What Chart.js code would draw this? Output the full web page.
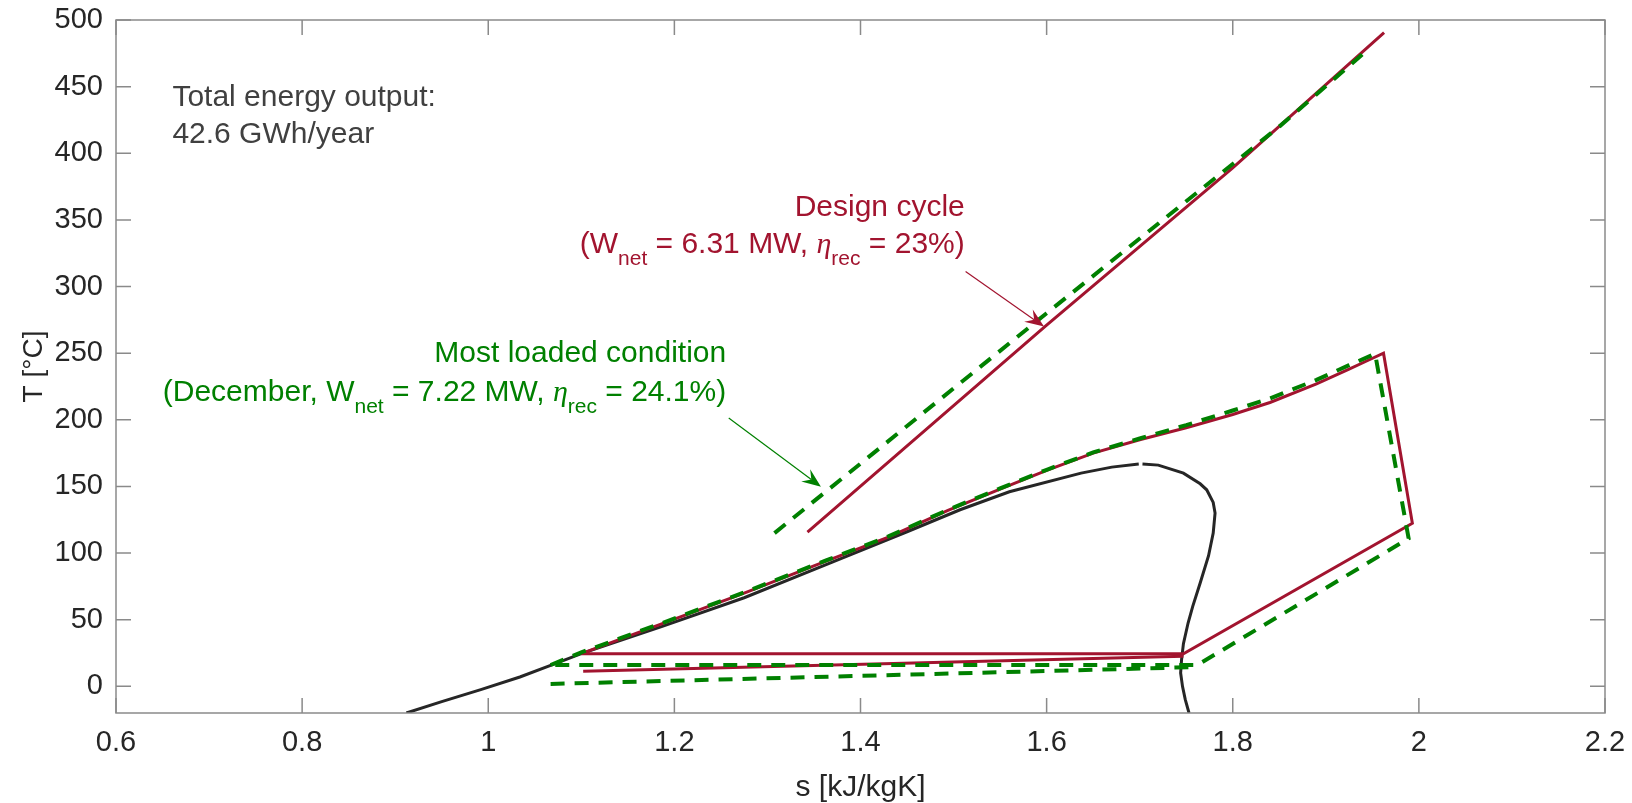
<!DOCTYPE html>
<html lang="en">
<head>
<meta charset="UTF-8" />
<title>T-s diagram</title>
<script src="https://cdn.jsdelivr.net/npm/chart.js"></script>
<style>
  html, body { margin: 0; padding: 0; background: #fff; }
</style>
</head>
<body>
<canvas id="tsChart" width="1632" height="803"></canvas>
<script>
  // axis ticks
  const xTicks = [0.6, 0.8, 1, 1.2, 1.4, 1.6, 1.8, 2, 2.2];
  const yTicks = [0, 50, 100, 150, 200, 250, 300, 350, 400, 450, 500];

  // saturation dome (liquid side, then vapour side)
  const domeLiqS = [0.912, 0.95, 0.992, 1.034, 1.067, 1.10, 1.187, 1.275, 1.369, 1.45, 1.507, 1.56, 1.637, 1.67, 1.699];
  const domeLiqT = [-20, -11.5, -2.5, 7, 15.7, 24.5, 45, 66.5, 93, 116, 132.5, 146, 160, 164.5, 166.8];
  const domeVapS = [1.703, 1.72, 1.747, 1.765, 1.772, 1.779, 1.781, 1.779, 1.774, 1.765, 1.757, 1.752, 1.747, 1.745, 1.744, 1.746, 1.749, 1.753];
  const domeVapT = [166.8, 166, 160, 152, 147.5, 138, 130, 115, 98, 77.5, 60, 47.5, 32, 20, 10, 0, -10, -20];

  // design cycle: heating, expansion, desuperheating, condensation
  const designCycleS = [1.100, 1.187, 1.275, 1.363, 1.43, 1.494, 1.55, 1.60, 1.65, 1.70, 1.75, 1.80, 1.84, 1.89, 1.925, 1.945, 1.962, 1.993, 1.747, 1.100];
  const designCycleT = [24.5, 47, 70, 94, 112, 132, 148, 162, 175, 185, 194, 204, 213, 227, 238, 244.5, 250, 122.4, 24.5, 24.5];
  const designSourceS = [1.343, 1.60, 1.80, 1.9626];
  const designSourceT = [115.7, 271, 389, 490.5];
  const designSinkS = [1.102, 1.747];
  const designSinkT = [11.3, 22.6];

  // most loaded condition (December)
  const decCycleS = [1.067, 1.10, 1.187, 1.275, 1.363, 1.43, 1.494, 1.55, 1.60, 1.65, 1.70, 1.75, 1.80, 1.84, 1.89, 1.925, 1.953, 1.989, 1.762, 1.067];
  const decCycleT = [16, 25.5, 47.5, 70.5, 94.5, 112.5, 132.5, 148.5, 162.5, 175.5, 186, 196, 207, 216, 230, 241, 249.5, 111, 16, 16];
  const decSourceS = [1.3076, 1.60, 1.85, 1.944];
  const decSourceT = [115, 280, 420, 477];
  const decSinkS = [1.067, 1.762];
  const decSinkT = [1.8, 14.5];

  const RED = '#A2142F';
  const GREEN = '#008000';
  const BLACK = '#262626';
  const AXIS = '#8a8a8a';
  const FONT = '"Liberation Sans", Arial, Helvetica, sans-serif';
  const NOTE_SIZE = 30;

  const pts = (s, t) => s.map((v, i) => ({ x: v, y: t[i] }));

  function line(s, t, color, width, dashed, order) {
    return {
      data: pts(s, t),
      showLine: true,
      borderColor: color,
      borderWidth: width,
      borderDash: dashed ? [14, 10] : [],
      pointRadius: 0,
      tension: 0,
      fill: false,
      order: order
    };
  }

  // text blocks and arrows, placed in data units
  const notes = [
    { s: 0.6606, T: 443.4, align: 'left', color: '#404040', parts: [{ t: 'Total energy output:' }] },
    { s: 0.6606, T: 415.7, align: 'left', color: '#404040', parts: [{ t: '42.6 GWh/year' }] },
    { s: 1.512, T: 361.3, align: 'right', color: RED, parts: [{ t: 'Design cycle' }] },
    { s: 1.512, T: 333.2, align: 'right', color: RED, parts: [
      { t: '(W' }, { t: 'net', f: 'sub' }, { t: ' = 6.31 MW, ' }, { t: 'η', f: 'eta' }, { t: 'rec', f: 'sub' }, { t: ' = 23%)' }] },
    { s: 1.2557, T: 251.3, align: 'right', color: GREEN, parts: [{ t: 'Most loaded condition' }] },
    { s: 1.2557, T: 222.5, align: 'right', color: GREEN, parts: [
      { t: '(December, W' }, { t: 'net', f: 'sub' }, { t: ' = 7.22 MW, ' }, { t: 'η', f: 'eta' }, { t: 'rec', f: 'sub' }, { t: ' = 24.1%)' }] }
  ];
  const arrows = [
    { s0: 1.5129, T0: 311.2, s1: 1.5972, T1: 270, color: RED },
    { s0: 1.2584, T0: 201.3, s1: 1.3575, T1: 149.8, color: GREEN }
  ];

  // y is the vertical middle of the capitals
  function drawRich(ctx, parts, x, y, align, color) {
    const fonts = {
      n: NOTE_SIZE + 'px ' + FONT,
      sub: Math.round(NOTE_SIZE * 0.7) + 'px ' + FONT,
      eta: 'italic ' + NOTE_SIZE + 'px "Liberation Serif", serif'
    };
    let w = 0;
    parts.forEach(p => { ctx.font = fonts[p.f || 'n']; p.w = ctx.measureText(p.t).width; w += p.w; });
    let cx = align === 'right' ? x - w : x;
    const base = y + NOTE_SIZE * 0.358;
    ctx.fillStyle = color;
    ctx.textAlign = 'left';
    ctx.textBaseline = 'alphabetic';
    parts.forEach(p => {
      ctx.font = fonts[p.f || 'n'];
      ctx.fillText(p.t, cx, base + (p.f === 'sub' ? 12 : 0));
      cx += p.w;
    });
  }

  function drawArrow(ctx, x0, y0, x1, y1, color) {
    const ang = Math.atan2(y1 - y0, x1 - x0);
    const len = 19, half = 7.5, notch = 12;
    const c = Math.cos(ang), s = Math.sin(ang);
    ctx.strokeStyle = color;
    ctx.fillStyle = color;
    ctx.lineWidth = 1.2;
    ctx.beginPath();
    ctx.moveTo(x0, y0);
    ctx.lineTo(x1 - c * notch, y1 - s * notch);
    ctx.stroke();
    const bx = x1 - c * len, by = y1 - s * len;
    ctx.beginPath();
    ctx.moveTo(x1, y1);
    ctx.lineTo(bx - s * half, by + c * half);
    ctx.lineTo(x1 - c * notch, y1 - s * notch);
    ctx.lineTo(bx + s * half, by - c * half);
    ctx.closePath();
    ctx.fill();
  }

  const frameAndNotes = {
    id: 'frameAndNotes',
    afterDatasetsDraw(chart) {
      const { ctx, chartArea: a, scales: { x, y } } = chart;
      const TICK = 15;
      ctx.save();
      ctx.strokeStyle = AXIS;
      ctx.lineWidth = 1.5;
      ctx.strokeRect(a.left, a.top, a.right - a.left, a.bottom - a.top);
      ctx.beginPath();
      x.ticks.forEach(t => {
        const px = x.getPixelForValue(t.value);
        ctx.moveTo(px, a.bottom); ctx.lineTo(px, a.bottom - TICK);
        ctx.moveTo(px, a.top); ctx.lineTo(px, a.top + TICK);
      });
      y.ticks.forEach(t => {
        const py = y.getPixelForValue(t.value);
        ctx.moveTo(a.left, py); ctx.lineTo(a.left + TICK, py);
        ctx.moveTo(a.right, py); ctx.lineTo(a.right - TICK, py);
      });
      ctx.stroke();

      notes.forEach(n => drawRich(ctx, n.parts, x.getPixelForValue(n.s), y.getPixelForValue(n.T), n.align, n.color));
      arrows.forEach(r => drawArrow(ctx,
        x.getPixelForValue(r.s0), y.getPixelForValue(r.T0),
        x.getPixelForValue(r.s1), y.getPixelForValue(r.T1), r.color));
      ctx.restore();
    }
  };

  // fixed axis boxes, no label overflow padding
  function fixBox(sc, size) {
    if (sc.isHorizontal()) sc.height = size; else sc.width = size;
    sc.paddingTop = sc.paddingBottom = sc.paddingLeft = sc.paddingRight = 0;
  }

  new Chart(document.getElementById('tsChart'), {
    type: 'scatter',
    data: {
      datasets: [
        line(decCycleS, decCycleT, GREEN, 4, true, 0),
        line(decSourceS, decSourceT, GREEN, 4, true, 0),
        line(decSinkS, decSinkT, GREEN, 4, true, 0),
        line(designCycleS, designCycleT, RED, 3, false, 1),
        line(designSourceS, designSourceT, RED, 3, false, 1),
        line(designSinkS, designSinkT, RED, 3, false, 1),
        line(domeLiqS, domeLiqT, BLACK, 3, false, 2),
        line(domeVapS, domeVapT, BLACK, 3, false, 2)
      ]
    },
    options: {
      responsive: false,
      animation: false,
      devicePixelRatio: 1,
      layout: { autoPadding: false, padding: { top: 20, right: 27, left: 0, bottom: 0 } },
      plugins: { legend: { display: false }, tooltip: { enabled: false } },
      scales: {
        x: {
          type: 'linear',
          min: 0.6, max: 2.2,
          grid: { display: false, drawTicks: false },
          border: { display: false },
          afterBuildTicks: sc => { sc.ticks = xTicks.map(v => ({ value: v })); },
          afterFit: sc => fixBox(sc, 90),
          ticks: {
            padding: 13,
            color: BLACK,
            font: { family: FONT, size: 29 },
            callback: v => String(v)
          },
          title: {
            display: true,
            text: 's [kJ/kgK]',
            color: BLACK,
            font: { family: FONT, size: 30, lineHeight: 1 },
            padding: { top: 0, bottom: 0 }
          }
        },
        y: {
          type: 'linear',
          min: -20, max: 500,
          grid: { display: false, drawTicks: false },
          border: { display: false },
          afterBuildTicks: sc => { sc.ticks = yTicks.map(v => ({ value: v })); },
          afterFit: sc => fixBox(sc, 116),
          ticks: {
            padding: 13,
            color: BLACK,
            font: { family: FONT, size: 29 },
            callback: v => String(v)
          },
          title: {
            display: true,
            text: 'T [°C]',
            color: BLACK,
            font: { family: FONT, size: 28, lineHeight: 1 },
            padding: { top: 20, bottom: 0 }
          }
        }
      }
    },
    plugins: [frameAndNotes]
  });
</script>
</body>
</html>
